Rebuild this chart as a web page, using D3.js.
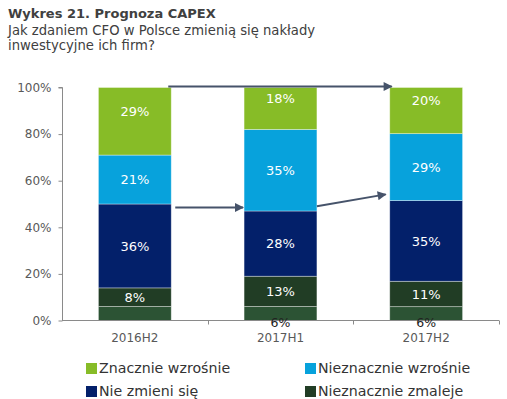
<!DOCTYPE html>
<html><head><meta charset="utf-8">
<script src="https://cdn.jsdelivr.net/npm/d3@7"></script>
<style>
html,body{margin:0;padding:0;background:#fff;}
svg{display:block;font-family:"DejaVu Sans",Verdana,sans-serif;}
</style></head>
<body>
<svg id="c" width="507" height="399"></svg>
<script>
const title = "Wykres 21. Prognoza CAPEX";
const subtitle = ["Jak zdaniem CFO w Polsce zmienią się nakłady", "inwestycyjne ich firm?"];
const categories = ["2016H2", "2017H1", "2017H2"];
const seriesNames = ["Znacznie zmaleje", "Nieznacznie zmaleje", "Nie zmieni się", "Nieznacznie wzrośnie", "Znacznie wzrośnie"];
const znacznieZmaleje = [6, 6, 6];
const nieznacznieZmaleje = [8, 13, 11];
const nieZmieniSie = [36, 28, 35];
const nieznacznieWzrosnie = [21, 35, 29];
const znacznieWzrosnie = [29, 18, 20];
const colors = ["#2c5334", "#213d25", "#03206a", "#07a2dc", "#87bc27"];
const yTicks = [0, 20, 40, 60, 80, 100];
const legendOrder = ["Znacznie wzrośnie", "Nieznacznie wzrośnie", "Nie zmieni się", "Nieznacznie zmaleje"];
// arrows: [fromCategory, fromValue, toCategory, toValue]
const arrows = [["2016H2", 100, "2017H2", 100], ["2016H2", 48.3, "2017H1", 48.3], ["2017H1", 48.8, "2017H2", 53.9]];

const svg = d3.select("#c");
const seriesVals = [znacznieZmaleje, nieznacznieZmaleje, nieZmieniSie, nieznacznieWzrosnie, znacznieWzrosnie];
const table = categories.map((c, i) => {
  const o = {cat: c};
  seriesNames.forEach((s, k) => o[s] = seriesVals[k][i]);
  return o;
});
const stack = d3.stack().keys(seriesNames).offset(d3.stackOffsetExpand);
const stacked = stack(table);

const x = d3.scaleBand().domain(categories).range([62, 499]).paddingInner(0.5).paddingOuter(0.25);
const y = d3.scaleLinear().domain([0, 1]).range([320.5, 87.5]);
const color = d3.scaleOrdinal().domain(seriesNames).range(colors);

// title
svg.append("text").attr("x", 8).attr("y", 18).attr("font-size", 13).attr("font-weight", "bold").attr("fill", "#404040").text(title);
subtitle.forEach((t, i) => svg.append("text").attr("x", 8).attr("y", 35 + i * 15).attr("font-size", 13.2).attr("fill", "#404040").text(t));

// bars
const g = svg.append("g");
stacked.forEach((s, k) => {
  g.selectAll(null).data(s).enter().append("rect")
    .attr("x", d => x(d.data.cat))
    .attr("width", x.bandwidth())
    .attr("y", d => y(d[1]))
    .attr("height", d => y(d[0]) - y(d[1]))
    .attr("fill", color(s.key))
    .attr("stroke", "rgba(255,255,255,0.45)")
    .attr("stroke-width", 0.8);
});

// axes
const yAxis = d3.axisLeft(d3.scaleLinear().domain([0, 100]).range([320.5, 87.5])).tickValues(yTicks).tickSize(4).tickPadding(7).tickFormat(d => d + "%");
const ya = svg.append("g").attr("transform", "translate(62.5,0)").call(yAxis);
ya.select(".domain").attr("stroke", "#8a8a8a").attr("d", "M-4,87.5H0V320.5");
ya.selectAll(".tick line").attr("stroke", "#8a8a8a");
ya.selectAll(".tick text").attr("font-size", 12).attr("fill", "#595959").attr("font-family", "DejaVu Sans, Verdana, sans-serif");

const xa = svg.append("g").attr("transform", "translate(0,320.5)");
xa.append("line").attr("x1", 62).attr("x2", 499).attr("stroke", "#8a8a8a");
const bounds = categories.map(c => x(c) + x.bandwidth() + x.step() * x.paddingInner() / 2);
bounds.forEach(b => xa.append("line").attr("x1", Math.round(b) + 0.5).attr("x2", Math.round(b) + 0.5).attr("y1", 0).attr("y2", 4).attr("stroke", "#8a8a8a"));
categories.forEach(c => xa.append("text").attr("x", x(c) + x.bandwidth() / 2).attr("y", 21).attr("text-anchor", "middle").attr("font-size", 12).attr("fill", "#595959").text(c));

// value labels
stacked.forEach((s, k) => {
  s.forEach((d, i) => {
    const v = seriesVals[k][i];
    const cx = x(d.data.cat) + x.bandwidth() / 2;
    if (k === 0) {
      if (i === 0) return;
      svg.append("text").attr("x", cx).attr("y", 327).attr("text-anchor", "middle").attr("font-size", 12.5).attr("fill", "#222").text(v + "%");
      return;
    }
    let cy = (y(d[0]) + y(d[1])) / 2;
    if (k === seriesNames.length - 1) cy -= 10;
    svg.append("text").attr("x", cx).attr("y", cy).attr("dy", "0.36em").attr("text-anchor", "middle").attr("font-size", 13).attr("fill", "#fff").text(v + "%");
  });
});

// arrows
const defs = svg.append("defs");
defs.append("marker").attr("id", "ah").attr("viewBox", "0 0 10 10").attr("refX", 9).attr("refY", 5)
  .attr("markerWidth", 5).attr("markerHeight", 4.5).attr("markerUnits", "strokeWidth").attr("orient", "auto")
  .append("path").attr("d", "M0,0L10,5L0,10Z").attr("fill", "#46536a");
const ya2 = d3.scaleLinear().domain([0, 100]).range([320.5, 86.5]);
arrows.forEach(([c1, v1, c2, v2], i) => {
  const x1 = i === 0 ? x(c1) + x.bandwidth() - 3 : x(c1) + x.bandwidth() + (i === 1 ? 4 : 0);
  const x2 = i === 0 ? x(c2) + 2 : x(c2) - (i === 1 ? 1 : 4);
  svg.append("line").attr("x1", x1).attr("y1", ya2(v1)).attr("x2", x2).attr("y2", ya2(v2))
    .attr("stroke", "#46536a").attr("stroke-width", 2).attr("marker-end", "url(#ah)");
});

// legend
const lg = svg.append("g");
legendOrder.forEach((name, i) => {
  const col = i % 2, row = Math.floor(i / 2);
  const lx = col === 0 ? 86 : 305;
  const ly = 363 + row * 23;
  lg.append("rect").attr("x", lx).attr("y", ly).attr("width", 11).attr("height", 11).attr("fill", color(name));
  lg.append("text").attr("x", lx + 13).attr("y", ly + 10).attr("font-size", 14.2).attr("fill", "#333").text(name);
});
</script>
</body></html>
